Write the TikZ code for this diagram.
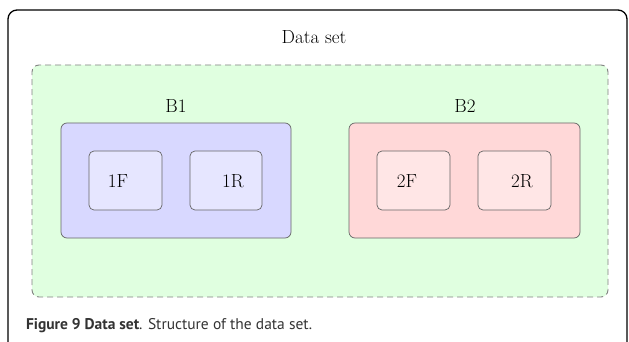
\documentclass[tikz,border=0pt]{standalone}
\usepackage{fontspec}
\newfontfamily\capfont{PT Sans}
\begin{document}
\begin{tikzpicture}[x=1pt,y=-1pt,
  every node/.style={inner sep=0pt, outer sep=0pt},
  lbl/.style={font=\fontsize{19}{21}\selectfont, anchor=base},
  group/.style={draw=black!60, line width=0.7pt, rounded corners=6pt},
  part/.style={draw=black!60, line width=0.7pt, rounded corners=5pt},
]
\useasboundingbox (0,0) rectangle (629,342);
\begin{scope}
\clip (0,0) rectangle (629,342);
% outer frame, open at the bottom of the page
\draw[line width=1.3pt, rounded corners=9pt] (8,380) -- (8,10) -- (627,10) -- (627,380);

% whole data set
\node[draw=black!50, dash pattern=on 6pt off 4pt, line width=0.9pt, rounded corners=7pt, fill={rgb,255:red,224;green,255;blue,224},
  minimum width=576pt, minimum height=232pt] (ds) at (320,181) {};
\node[lbl] (dslabel) at (314,44) {Data set};

% batch B1
\node[group, fill={rgb,255:red,216;green,216;blue,255}, minimum width=230pt, minimum height=115pt] (b1) at (176,180.5) {};
\node[lbl] (b1label) at (176,113) {B1};
\node[part, fill={rgb,255:red,230;green,230;blue,255}, minimum width=73pt, minimum height=59pt] (f1) at (125.5,180.5) {};
\node[part, fill={rgb,255:red,230;green,230;blue,255}, minimum width=72pt, minimum height=59pt] (r1) at (226,180.5) {};
\node[lbl] (f1label) at (118,187.5) {1F};
\node[lbl] (r1label) at (233,187.5) {1R};

% batch B2
\node[group, fill={rgb,255:red,255;green,216;blue,216}, minimum width=231pt, minimum height=115pt] (b2) at (464.5,180.5) {};
\node[lbl] (b2label) at (465,113) {B2};
\node[part, fill={rgb,255:red,255;green,230;blue,230}, minimum width=73pt, minimum height=59pt] (f2) at (413.5,180.5) {};
\node[part, fill={rgb,255:red,255;green,230;blue,230}, minimum width=73pt, minimum height=59pt] (r2) at (514.5,180.5) {};
\node[lbl] (f2label) at (407,187.5) {2F};
\node[lbl] (r2label) at (522,187.5) {2R};

% caption
\node[anchor=base west, font=\capfont\fontsize{15.5}{17}\selectfont, text=black!80] (cap) at (26,329)
  {\textbf{Figure 9 Data set}. Structure of the data set.};
\end{scope}
\end{tikzpicture}
\end{document}
